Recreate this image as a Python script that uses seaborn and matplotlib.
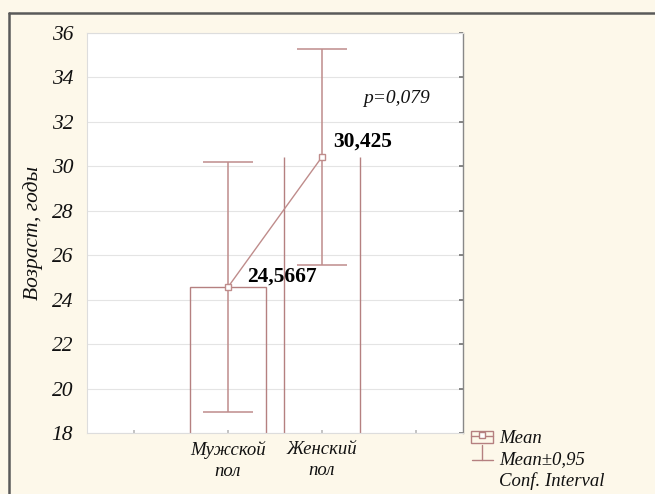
import numpy as np
import pandas as pd
import matplotlib
matplotlib.use("Agg")
import matplotlib.pyplot as plt
import seaborn as sns
from matplotlib.lines import Line2D
from matplotlib.patches import Rectangle

# Age by sex: means with 95% confidence intervals
groups = ["Мужской\nпол", "Женский\nпол"]
means = [24.5667, 30.425]
ci_low = [18.95, 25.55]
ci_high = [30.2, 35.3]
mean_labels = ["24,5667", "30,425"]
p_text = "p=0,079"
y_ticks = list(range(18, 37, 2))
y_label = "Возраст, годы"
legend_labels = ["Mean", "Mean±0,95", "Conf. Interval"]

W, H = 655, 494
BG = "#fdf8ea"
LINE = "#bf8c8b"
BAR = "#b58080"

sns.set_theme(style="white")
plt.rcParams["font.family"] = ["Liberation Serif", "DejaVu Serif"]
plt.rcParams["text.color"] = "#111111"
plt.rcParams["xtick.color"] = "#111111"
plt.rcParams["ytick.color"] = "#111111"
plt.rcParams["axes.labelcolor"] = "#111111"

fig = plt.figure(figsize=(W / 100, H / 100), dpi=100, facecolor=BG)


def fx(px):
    return px / W


def fy(py):
    return 1 - py / H


ax = fig.add_axes([fx(87), fy(433), fx(463 - 87), (433 - 33) / H])
ax.set_facecolor("white")

df = pd.DataFrame({"group": groups, "mean": means})

# outlined bars up to the mean
sns.barplot(data=df, x="group", y="mean", ax=ax, fill=False, width=0.8,
            color=BAR, linewidth=1.0, errorbar=None, zorder=2)
# the second bar shows only its side walls
fem = ax.patches[1]
fem.set_visible(False)
x0 = fem.get_x()
x1 = x0 + fem.get_width()
ax.vlines([x0, x1], 0, means[1], color=BAR, linewidth=1.0, zorder=2)

# confidence intervals
xs = np.arange(len(groups))
yerr = [np.array(means) - np.array(ci_low), np.array(ci_high) - np.array(means)]
ax.errorbar(xs, means, yerr=yerr, fmt="none", ecolor=LINE, elinewidth=1.1,
            capsize=18, capthick=1.1, zorder=3)

# means joined by a line
sns.pointplot(data=df, x="group", y="mean", ax=ax, errorbar=None, color=LINE,
              markers="s", markersize=4.5, markerfacecolor="white",
              markeredgecolor=LINE, markeredgewidth=1.0, linewidth=1.0, zorder=4)

ax.set_xlim(-1.5, 2.5)
ax.set_ylim(18, 36)
ax.set_yticks(y_ticks)
ax.set_yticklabels([str(t) for t in y_ticks], fontsize=15.5, style="italic")
ax.set_xticks([-1, 0, 1, 2])
ax.set_xticklabels(["", groups[0], groups[1], ""], fontsize=13.5, style="italic",
                   linespacing=1.3)
ax.set_xlabel("")
ax.set_ylabel(y_label, fontsize=15.5, style="italic", labelpad=6)

ax.grid(axis="y", color="#e4e4e4", linewidth=0.8, zorder=0)
ax.set_axisbelow(True)
ax.tick_params(axis="y", left=False, right=True, direction="in", length=3,
               color="#777777", pad=10)
ax.tick_params(axis="x", bottom=True, direction="in", length=2, color="#bbbbbb",
               pad=6)
for side in ["left", "bottom", "top"]:
    ax.spines[side].set_color("#dddddd")
    ax.spines[side].set_linewidth(0.8)
ax.spines["right"].set_color("#888888")
ax.spines["right"].set_linewidth(1.0)

# value labels for the means
ax.text(xs[0] + 0.2, means[0] + 0.45, mean_labels[0], fontsize=15.5,
        fontweight="bold", va="center", ha="left", color="black")
ax.text(xs[1] + 0.12, means[1] + 0.67, mean_labels[1], fontsize=15.5,
        fontweight="bold", va="center", ha="left", color="black")
ax.text(1.44, 33.07, p_text, fontsize=14, style="italic", va="center", ha="left")

# legend outside the plot area
icol = BAR
fig.add_artist(Rectangle((fx(471), fy(443)), fx(22), (443 - 431) / H,
                         fill=False, edgecolor=icol, linewidth=1.0))
fig.add_artist(Line2D([fx(471), fx(493)], [fy(436), fy(436)], color=icol, lw=1.0))
fig.add_artist(Line2D([fx(482)], [fy(435)], marker="s", markersize=4,
                      markerfacecolor="white", markeredgecolor=icol, lw=0))
fig.add_artist(Line2D([fx(482), fx(482)], [fy(445), fy(460)], color=icol, lw=1.0))
fig.add_artist(Line2D([fx(472), fx(493)], [fy(460), fy(460)], color=icol, lw=1.0))
fig.text(fx(499), fy(438), legend_labels[0], fontsize=13.5, style="italic", va="center")
fig.text(fx(499), fy(460), legend_labels[1], fontsize=13.5, style="italic", va="center")
fig.text(fx(499), fy(481), legend_labels[2], fontsize=13.5, style="italic", va="center")

# frame around the figure
fig.add_artist(Line2D([fx(9), fx(9)], [fy(13), 0], color="#5a5a5a", lw=1.8))
fig.add_artist(Line2D([fx(9), 1], [fy(13), fy(13)], color="#5a5a5a", lw=1.8))

fig.savefig("out.png", dpi=100, facecolor=BG)
